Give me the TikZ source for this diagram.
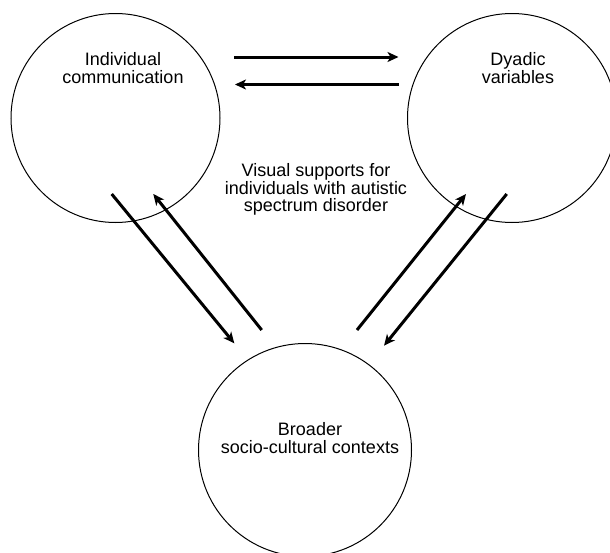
\documentclass[tikz,border=0pt]{standalone}
\usepackage{fontspec}
\setmainfont{Liberation Sans}
\usetikzlibrary{arrows.meta}

\tikzset{
  blob/.style={circle, draw, line width=1pt, minimum size=2*\rad, inner sep=0pt},
  lbl/.style={align=center, inner sep=0pt, font=\fontsize{18}{17.6}\selectfont},
  flow/.style={-{Stealth[length=11pt, width=10pt, inset=3pt]}, line width=3pt}
}

\begin{document}
\begin{tikzpicture}[x=1pt, y=-1pt]
    \def\rad{104.5pt}
    \useasboundingbox (0,0) rectangle (610,552);
    \node[blob] (ind) at (115.5,118) {};
    \node[blob] (dya) at (512,118) {};
    \node[blob, minimum size=213pt] (soc) at (305,450) {};
    \node[lbl] (ind-txt) at (123,68) {Individual\\communication};
    \node[lbl] (dya-txt) at (518,68) {Dyadic\\variables};
    \node[lbl] (soc-txt) at (310,438) {Broader\\socio-cultural contexts};
    \node[lbl] (topic) at (316,189.5) {Visual supports for\\individuals with autistic\\spectrum disorder};
    % arrow ends
    \coordinate (id-a) at (234,57);
    \coordinate (id-b) at (398.5,57);
    \coordinate (di-a) at (398.5,84.5);
    \coordinate (di-b) at (235,84.5);
    \coordinate (is-a) at (111.7,194);
    \coordinate (is-b) at (234.3,343.3);
    \coordinate (si-a) at (261.7,330);
    \coordinate (si-b) at (153.3,194);
    \coordinate (sd-a) at (357,330);
    \coordinate (sd-b) at (466,194);
    \coordinate (ds-a) at (506.7,194);
    \coordinate (ds-b) at (384,345.7);
    \draw[flow] (id-a) -- (id-b);
    \draw[flow] (di-a) -- (di-b);
    \draw[flow] (is-a) -- (is-b);
    \draw[flow] (si-a) -- (si-b);
    \draw[flow] (sd-a) -- (sd-b);
    \draw[flow] (ds-a) -- (ds-b);
\end{tikzpicture}
\end{document}
